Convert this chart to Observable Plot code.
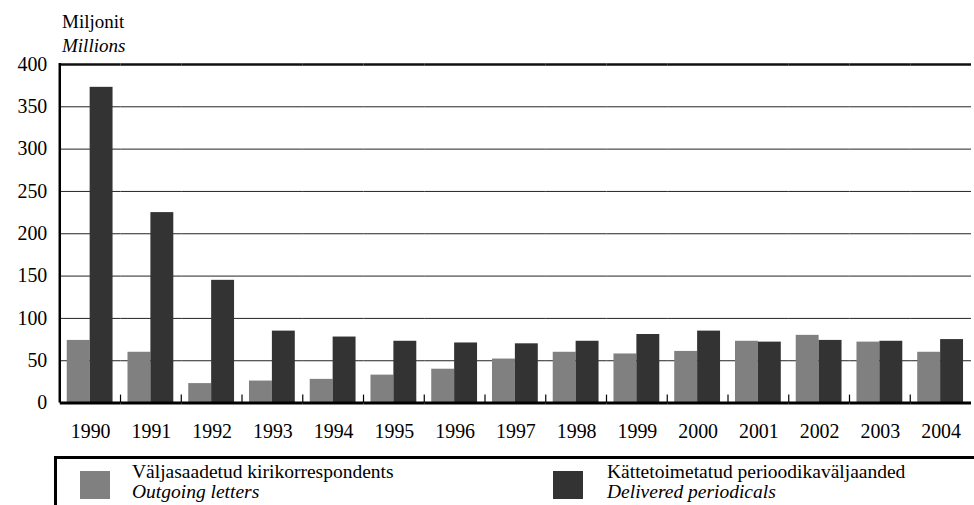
<!DOCTYPE html>
<html>
<head>
<meta charset="utf-8">
<script src="https://cdn.jsdelivr.net/npm/d3@7"></script>
<script src="https://cdn.jsdelivr.net/npm/@observablehq/plot@0.6"></script>
<style>
  html, body { margin: 0; padding: 0; overflow: hidden; background: #fff; width: 974px; height: 505px; }
  body { position: relative; font-family: 'Liberation Serif'; color: #000; }
  #ylab { position: absolute; left: 62px; top: 10px; font-size: 19px; line-height: 24px; font-family: 'Liberation Serif'; }
  #chart { position: absolute; left: 0; top: 56px; }
  #legend { position: absolute; left: 54px; top: 456px; width: 1000px; height: 80px; border: 3px solid #000; box-sizing: border-box; }
  .sw { position: absolute; width: 30px; height: 28px; }
  .lt { position: absolute; font-size: 19.5px; line-height: 20px; white-space: nowrap; font-family: 'Liberation Serif'; }
  .lt i { display: block; }
</style>
</head>
<body>
<div id="ylab"><div>Miljonit</div><div><i>Millions</i></div></div>
<div id="chart"></div>
<div id="legend"></div>
<script>
const years = [1990, 1991, 1992, 1993, 1994, 1995, 1996, 1997, 1998, 1999, 2000, 2001, 2002, 2003, 2004];
const seriesNames = ["Väljasaadetud kirikorrespondents", "Kättetoimetatud perioodikaväljaanded"];
const seriesNamesEn = ["Outgoing letters", "Delivered periodicals"];
const outgoingLetters = [74, 60, 23, 26, 28, 33, 40, 52, 60, 58, 61, 73, 80, 72, 60];
const deliveredPeriodicals = [373, 225, 145, 85, 78, 73, 71, 70, 73, 81, 85, 72, 74, 73, 75];
const yTicks = [0, 50, 100, 150, 200, 250, 300, 350, 400];
const gridValues = [50, 100, 150, 200, 250, 300, 350];
const colors = ["#808080", "#333333"];

const data = [];
years.forEach((yr, i) => {
  data.push({year: yr, series: seriesNames[0], value: outgoingLetters[i]});
  data.push({year: yr, series: seriesNames[1], value: deliveredPeriodicals[i]});
});

// Mark drawing the left axis line (first group) and small separator ticks between groups
class GroupEdges extends Plot.Mark {
  constructor(data, options = {}) { super(data, {}, options, {}); }
  render(index, scales, values, dimensions) {
    const {marginLeft, marginTop, marginBottom, height} = dimensions;
    const g = d3.create("svg:g");
    const yb = height - marginBottom;
    for (const i of index) {
      const first = this.data[i] === years[0];
      g.append("line")
        .attr("x1", marginLeft).attr("x2", marginLeft)
        .attr("y1", yb).attr("y2", first ? marginTop - 1 : yb - 8)
        .attr("stroke", "#000")
        .attr("stroke-width", first ? 2.5 : 1.2);
    }
    return g.node();
  }
}

const plot = Plot.plot({
  width: 978,
  height: 394,
  marginLeft: 56,
  marginRight: 0,
  marginTop: 8,
  marginBottom: 46,
  style: {fontFamily: "'Liberation Serif'", fontSize: "20px", color: "#000", background: "transparent", overflow: "visible"},
  fx: {domain: years, paddingInner: 0, paddingOuter: 0, tickSize: 0, tickPadding: 21, label: null, tickFormat: d => String(d)},
  x: {domain: seriesNames, paddingInner: 0, paddingOuter: 0.28, align: 0.45, axis: null},
  y: {domain: [0, 400], ticks: yTicks, tickSize: 0, tickPadding: 13, label: null},
  color: {domain: seriesNames, range: colors},
  marks: [
    Plot.ruleY(gridValues, {stroke: "#222", strokeWidth: 1}),
    Plot.barY(data, {fx: "year", x: "series", y: "value", fill: "series"}),
    Plot.ruleY([400], {stroke: "#111", strokeWidth: 2.5}),
    Plot.ruleY([0], {stroke: "#000", strokeWidth: 3}),
    new GroupEdges(years, {fx: d => d})
  ]
});
document.getElementById("chart").appendChild(plot);

// Legend
const legend = document.getElementById("legend");
const swX = [80, 553];
const txX = [132, 607];
seriesNames.forEach((name, i) => {
  const sw = document.createElement("div");
  sw.className = "sw";
  sw.style.left = (swX[i] - 57) + "px";
  sw.style.top = (471 - 459) + "px";
  sw.style.background = colors[i];
  legend.appendChild(sw);
  const t = document.createElement("div");
  t.className = "lt";
  t.style.left = (txX[i] - 57) + "px";
  t.style.top = (462 - 459) + "px";
  const a = document.createElement("div"); a.textContent = name;
  const b = document.createElement("i"); b.textContent = seriesNamesEn[i];
  t.appendChild(a); t.appendChild(b);
  legend.appendChild(t);
});
</script>
</body>
</html>
